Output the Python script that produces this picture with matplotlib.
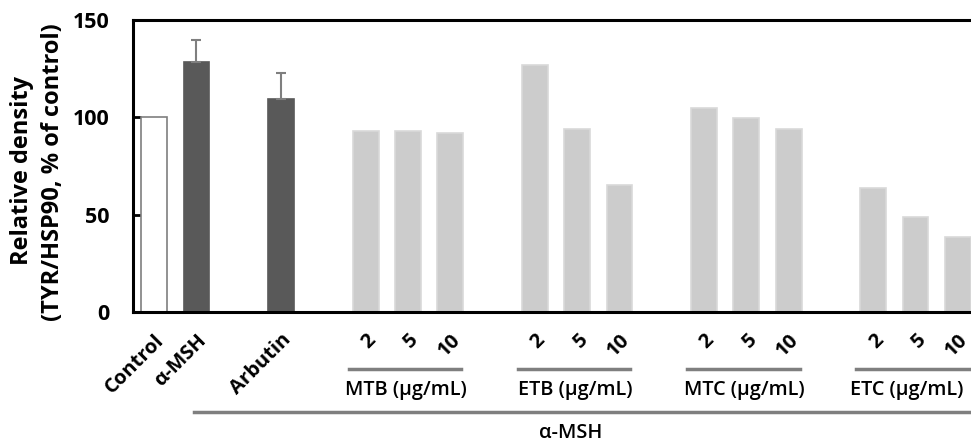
import numpy as np
import matplotlib
matplotlib.use("Agg")
import matplotlib.pyplot as plt
import matplotlib.transforms as mtransforms
from matplotlib.lines import Line2D

plt.rcParams['font.family'] = ['Open Sans', 'DejaVu Sans']

# slot positions (gaps between groups are empty slots)
pos = [0, 1, 3, 5, 6, 7, 9, 10, 11, 13, 14, 15, 17, 18, 19]
labels = ['Control', 'α-MSH', 'Arbutin',
          '2', '5', '10', '2', '5', '10', '2', '5', '10', '2', '5', '10']
values = [100, 128.5, 109.5,
          93, 93, 92,
          127, 94, 65,
          105, 99.5, 94,
          63.5, 49, 38.5]
errors = [0, 11, 13.5] + [0] * 12
groups = ['MTB (μg/mL)', 'ETB (μg/mL)', 'MTC (μg/mL)', 'ETC (μg/mL)']
group_slots = [[5, 6, 7], [9, 10, 11], [13, 14, 15], [17, 18, 19]]

face = ['white', '#595959', '#595959'] + ['#cccccc'] * 12
edge = ['#7f7f7f', '#595959', '#595959'] + ['#d9d9d9'] * 12

fig = plt.figure(figsize=(9.71, 4.43), dpi=100)
ax = fig.add_axes([133 / 971, 1 - 312 / 443, 1 - 133 / 971, 292 / 443])

ax.bar(pos, values, width=0.61, color=face, edgecolor=edge, linewidth=1.2, zorder=2)
for p, v, e in zip(pos, values, errors):
    if e > 0:
        ax.errorbar(p, v, yerr=[[0], [e]], fmt='none', ecolor='#7f7f7f',
                    elinewidth=1.5, capsize=3.5, capthick=1.5, zorder=3)

ax.set_xlim(-0.5, 19.31)
ax.set_ylim(0, 150)
ax.set_yticks([0, 50, 100, 150])
ax.set_yticklabels(['0', '50', '100', '150'], fontsize=15.5, fontweight='bold')
ax.tick_params(axis='y', direction='in', length=6, width=2, pad=17)

ax.set_xticks(pos)
ax.set_xticklabels(labels, rotation=45, ha='right', va='top',
                   rotation_mode='anchor', fontsize=14.5, fontweight='bold')
ax.tick_params(axis='x', length=0, pad=13)

for s in ['left', 'bottom', 'top']:
    ax.spines[s].set_linewidth(2.2)
    ax.spines[s].set_color('black')
ax.spines['right'].set_visible(False)

fig.text(22 / 971, 1 - 170 / 443, 'Relative density', rotation=90,
         ha='center', va='center', fontsize=17, fontweight='bold')
fig.text(53 / 971, 1 - 172 / 443, '(TYR/HSP90, % of control)', rotation=90,
         ha='center', va='center', fontsize=17, fontweight='bold')

trans = mtransforms.blended_transform_factory(ax.transData, fig.transFigure)
for name, slots in zip(groups, group_slots):
    y_line = 1 - 369 / 443
    ax.add_line(Line2D([slots[0] - 0.4, slots[-1] + 0.26], [y_line, y_line],
                       transform=trans, color='#7f7f7f', linewidth=2.5,
                       clip_on=False))
    xc = slots[1] - 0.05 if name != groups[-1] else slots[1] - 0.2
    ax.text(xc, 1 - 390 / 443, name, transform=trans, ha='center',
            va='center', fontsize=14.3, fontweight='semibold')

y_long = 1 - 412 / 443
ax.add_line(Line2D([0.94, 19.31], [y_long, y_long], transform=trans,
                   color='#7f7f7f', linewidth=2.5, clip_on=False))
ax.text(9.85, 1 - 433 / 443, 'α-MSH', transform=trans, ha='center',
        va='center', fontsize=14.3, fontweight='semibold')

fig.savefig('out.png', dpi=100)
